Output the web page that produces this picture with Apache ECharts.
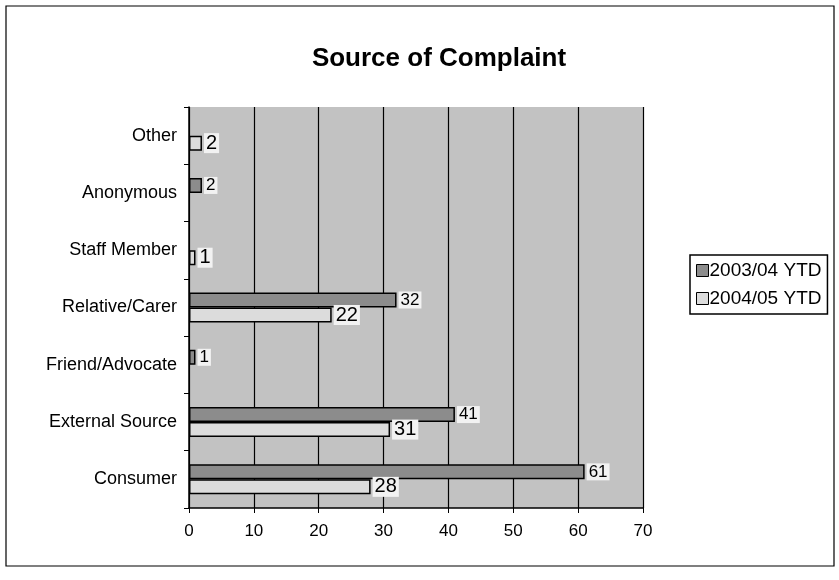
<!DOCTYPE html>
<html>
<head>
<meta charset="utf-8">
<script src="https://cdn.jsdelivr.net/npm/echarts@6/dist/echarts.min.js"></script>
<style>
  html, body { margin: 0; padding: 0; background: #fff; }
  #chart { width: 839px; height: 580px; }
</style>
</head>
<body>
<div id="chart"></div>
<script>
// categories listed bottom to top, as on the y axis
const categories = ["Consumer", "External Source", "Friend/Advocate", "Relative/Carer", "Staff Member", "Anonymous", "Other"];
// blank cells (no bar, no label) are '-'
const ytd0304 = [61, 41, 1, 32, "-", 2, "-"];
const ytd0405 = [28, 31, "-", 22, 1, "-", 2];
const xTicks = [0, 10, 20, 30, 40, 50, 60, 70];

const font = "Liberation Sans, Arial, sans-serif";

const chart = echarts.init(document.getElementById("chart"));

function labelStyle(size) {
  return {
    show: true,
    position: "right",
    distance: 2,
    color: "#000",
    fontFamily: font,
    fontSize: size,
    backgroundColor: "#f2f2f2",
    padding: [0, 2]
  };
}

chart.setOption({
  animation: false,
  textStyle: { fontFamily: font },
  title: {
    text: "Source of Complaint",
    left: 434,
    textAlign: "center",
    top: 41,
    textStyle: { fontSize: 26, fontWeight: "bold", color: "#000", fontFamily: font }
  },
  legend: {
    orient: "vertical",
    left: 690,
    top: 255,
    icon: "rect",
    itemWidth: 12,
    itemHeight: 12,
    itemGap: 9,
    padding: [6, 6, 6, 6],
    borderColor: "#000",
    borderWidth: 1.5,
    textStyle: { fontSize: 19, color: "#000", fontFamily: font, padding: [0, 0, 0, -4] },
    data: [
      { name: "2003/04 YTD", itemStyle: { color: "#8c8c8c", borderColor: "#000", borderWidth: 1 } },
      { name: "2004/05 YTD", itemStyle: { color: "#dcdcdc", borderColor: "#000", borderWidth: 1 } }
    ]
  },
  grid: {
    left: 189,
    right: 196,
    top: 107,
    bottom: 72,
    show: true,
    backgroundColor: "#c2c2c2",
    borderColor: "#c2c2c2",
    borderWidth: 0
  },
  xAxis: {
    type: "value",
    min: 0,
    max: 70,
    interval: 10,
    axisLine: { show: true, lineStyle: { color: "#000", width: 1.5 } },
    axisTick: { show: true, length: 5, lineStyle: { color: "#000" } },
    axisLabel: {
      color: "#000",
      fontSize: 17,
      margin: 15,
      fontFamily: font,
      formatter: v => xTicks.includes(v) ? String(v) : ""
    },
    splitLine: { show: true, lineStyle: { color: "#000", width: 1.2 } }
  },
  yAxis: {
    type: "category",
    data: categories,
    axisLine: { show: true, lineStyle: { color: "#000", width: 1.5 } },
    axisTick: { show: true, length: 5, lineStyle: { color: "#000" } },
    axisLabel: { color: "#000", fontSize: 18, margin: 12, fontFamily: font }
  },
  series: [
    {
      name: "2003/04 YTD",
      type: "bar",
      data: ytd0304,
      barWidth: 15,
      barGap: "0%",
      itemStyle: { color: "#8c8c8c", borderColor: "#000", borderWidth: 1.5 },
      label: labelStyle(17)
    },
    {
      name: "2004/05 YTD",
      type: "bar",
      data: ytd0405,
      barWidth: 15,
      barGap: "0%",
      itemStyle: { color: "#dcdcdc", borderColor: "#000", borderWidth: 1.5 },
      label: labelStyle(20)
    }
  ],
  graphic: [
    {
      type: "rect",
      shape: { x: 6, y: 6, width: 828, height: 560 },
      style: { fill: "none", stroke: "#000", lineWidth: 1.2 }
    }
  ]
});
</script>
</body>
</html>
